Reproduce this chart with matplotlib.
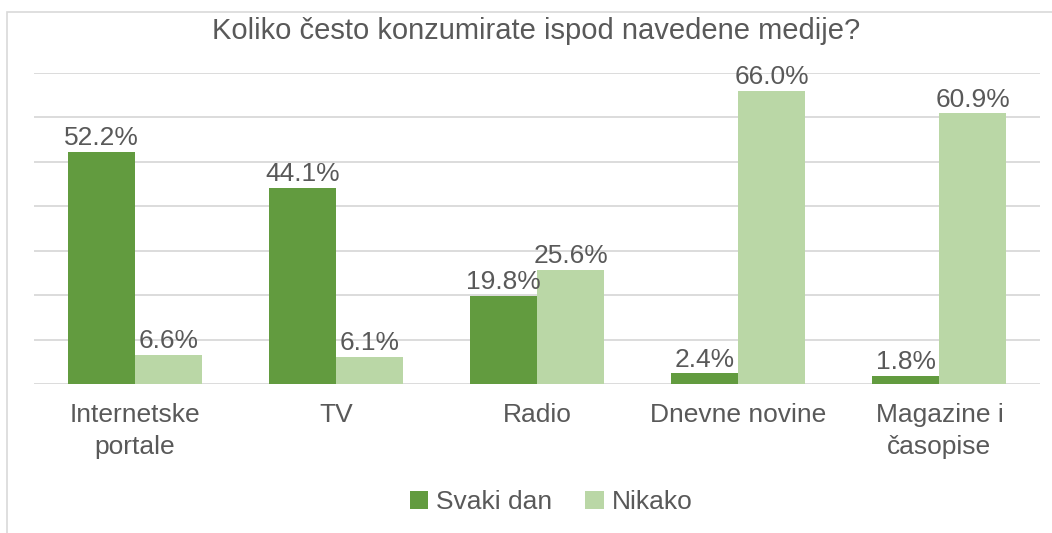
import matplotlib

matplotlib.use("Agg")

import matplotlib.pyplot as plt
import numpy as np
from matplotlib.patches import Rectangle

categories = ["Internetske\nportale", "TV", "Radio", "Dnevne novine", "Magazine i\nčasopise"]
svaki_dan = [52.2, 44.1, 19.8, 2.4, 1.8]
nikako = [6.6, 6.1, 25.6, 66.0, 60.9]
series_names = ["Svaki dan", "Nikako"]
title = "Koliko često konzumirate ispod navedene medije?"

DARK = "#629b3f"
LIGHT = "#bad7a6"
TEXT = "#595959"
GRID = "#d9d9d9"

plt.rcParams["font.family"] = ["Liberation Sans", "DejaVu Sans"]

W, H = 1052, 533
fig = plt.figure(figsize=(W / 100, H / 100), dpi=100)
ax = fig.add_axes([34 / W, (H - 384) / H, (1040 - 34) / W, (384 - 73) / H])

# outer chart frame (only left and top visible in the crop)
fig.patches.append(Rectangle((7 / W, -0.1), 1.2, (H - 12) / H + 0.1, transform=fig.transFigure,
                             fill=False, edgecolor=GRID, linewidth=1.2))

x = np.arange(len(categories))
width = 1 / 3
b1 = ax.bar(x - width / 2, svaki_dan, width, color=DARK, label=series_names[0], zorder=3)
b2 = ax.bar(x + width / 2, nikako, width, color=LIGHT, label=series_names[1], zorder=3)

for bars, vals in ((b1, svaki_dan), (b2, nikako)):
    for rect, v in zip(bars, vals):
        ax.text(rect.get_x() + rect.get_width() / 2, v + 0.4, f"{v:.1f}%", ha="center", va="bottom",
                fontsize=19, color=TEXT, zorder=4)

ax.set_xlim(-0.5, len(categories) - 0.5)
ax.set_ylim(0, 70)
ax.set_yticks(np.arange(0, 71, 10))
ax.yaxis.grid(True, color=GRID, linewidth=1.3, zorder=0)
ax.tick_params(axis="y", left=False, labelleft=False)
ax.set_xticks(x)
ax.set_xticklabels(categories, fontsize=19, color=TEXT, linespacing=1.38)
ax.tick_params(axis="x", length=0, pad=14)
for side in ax.spines:
    ax.spines[side].set_visible(False)

fig.text(536 / W, 1 - 31 / H, title, ha="center", va="center", fontsize=21, color=TEXT)

fig.legend(loc="center", bbox_to_anchor=(551 / W, 1 - 502 / H), ncol=2, frameon=False,
           fontsize=19, labelcolor=TEXT, handlelength=0.7, handleheight=0.7, handletextpad=0.3,
           columnspacing=1.25)

fig.savefig("out.png", dpi=100)
